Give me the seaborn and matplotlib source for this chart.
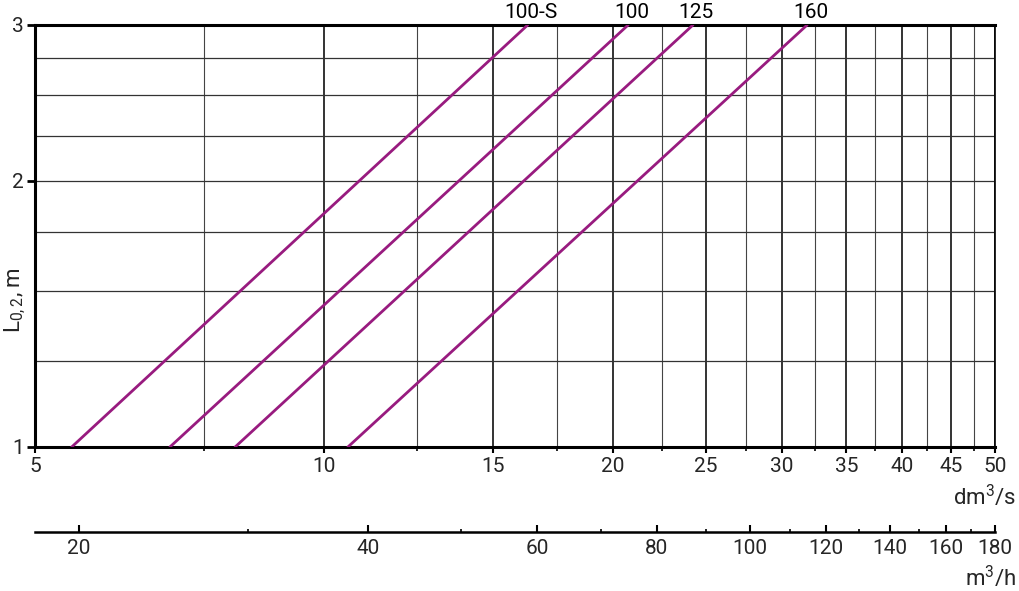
import matplotlib
matplotlib.use("Agg")
import matplotlib.pyplot as plt
import matplotlib.ticker as mticker
import seaborn as sns
import pandas as pd

# ---- data ----
series = ["100-S", "100", "125", "160"]
q_at_L1 = [5.46, 6.91, 8.08, 10.59]      # dm3/s at L0.2 = 1 m
q_at_L3 = [16.3, 20.74, 24.23, 31.86]    # dm3/s at L0.2 = 3 m
L_values = [1, 3]
x_major = [5, 10, 15, 20, 25, 30, 35, 40, 45, 50]
x_minor = [7.5, 12.5, 17.5, 22.5, 27.5, 32.5, 37.5, 42.5, 47.5]
y_major = [1, 2, 3]
y_minor = [1.25, 1.5, 1.75, 2.25, 2.5, 2.75]
h_major = [20, 40, 60, 80, 100, 120, 140, 160, 180]
h_minor = [30, 50, 70, 90, 110, 130, 150, 170]

rows = []
for s, a, b in zip(series, q_at_L1, q_at_L3):
    rows.append({"series": s, "Q": a, "L": L_values[0]})
    rows.append({"series": s, "Q": b, "L": L_values[1]})
df = pd.DataFrame(rows)

sns.set_theme(style="white")
plt.rcParams["font.family"] = ["Roboto", "DejaVu Sans"]
plt.rcParams["mathtext.fontset"] = "custom"
plt.rcParams["mathtext.rm"] = "Roboto"
plt.rcParams["mathtext.it"] = "Roboto"

FS = 15

fig = plt.figure(figsize=(10.2, 5.91), dpi=100)
ax = fig.add_axes([35/1020, 1-447/591, 960/1020, 422/591])
ax.set_xscale("log")
ax.set_yscale("log")
ax.set_xlim(5, 50)
ax.set_ylim(1, 3)

purple = "#981b7f"
sns.lineplot(data=df, x="Q", y="L", hue="series", palette=[purple]*4,
             linewidth=2.0, legend=False, ax=ax, zorder=5)

ax.set_xticks(x_major)
ax.set_xticklabels([str(v) for v in x_major])
ax.set_xticks(x_minor, minor=True)
ax.xaxis.set_minor_formatter(mticker.NullFormatter())
ax.set_yticks(y_major)
ax.set_yticklabels([str(v) for v in y_major])
ax.set_yticks(y_minor, minor=True)
ax.yaxis.set_minor_formatter(mticker.NullFormatter())

ax.grid(True, which="major", axis="x", color="#111111", linewidth=1.2)
ax.grid(True, which="minor", axis="x", color="#444444", linewidth=0.8)
ax.grid(True, which="both", axis="y", color="#333333", linewidth=0.9)

ax.tick_params(axis="x", which="major", direction="out", length=4, width=1.5,
               color="black", labelsize=FS, pad=3, bottom=True)
ax.tick_params(axis="x", which="minor", direction="out", length=3, width=1.2,
               color="black", bottom=True)
ax.tick_params(axis="y", which="major", direction="out", length=6, width=2,
               color="black", labelsize=FS, pad=2, left=True)
ax.tick_params(axis="y", which="minor", length=0, left=False)

for side in ["left", "bottom", "top"]:
    ax.spines[side].set_color("black")
    ax.spines[side].set_linewidth(2.2)
ax.spines["right"].set_color("black")
ax.spines["right"].set_linewidth(1.2)

for s, b in zip(series, q_at_L3):
    ax.text(b * 1.008, 3.02, s, ha="center", va="bottom", fontsize=FS, color="black")

ax.set_xlabel("")
ax.set_ylabel("")
fig.text(15/1020, 1-300/591, r"L$_{0,2}$, m", rotation=90, ha="center", va="center",
         fontsize=FS + 1)
fig.text(1016/1020, 1-497/591, r"dm$^3$/s", ha="right", va="center", fontsize=FS + 1)

# second axis m3/h
ax2 = fig.add_axes([35/1020, 1-532/591, 960/1020, 0.0001])
ax2.set_xscale("log")
ax2.set_xlim(18, 180)
ax2.set_yticks([])
ax2.patch.set_alpha(0)
for side in ["left", "right", "top"]:
    ax2.spines[side].set_visible(False)
ax2.spines["bottom"].set_linewidth(1.8)
ax2.spines["bottom"].set_color("black")
ax2.set_xticks(h_major)
ax2.set_xticklabels([str(v) for v in h_major])
ax2.set_xticks(h_minor, minor=True)
ax2.xaxis.set_minor_formatter(mticker.NullFormatter())
ax2.tick_params(axis="x", which="major", direction="in", length=5, width=1.5,
                color="black", labelsize=FS, pad=5, bottom=True)
ax2.tick_params(axis="x", which="minor", direction="in", length=2.5, width=1.2,
                color="black", bottom=True)
fig.text(1016/1020, 1-578/591, r"m$^3$/h", ha="right", va="center", fontsize=FS + 1)

fig.savefig("out.png", dpi=100)
